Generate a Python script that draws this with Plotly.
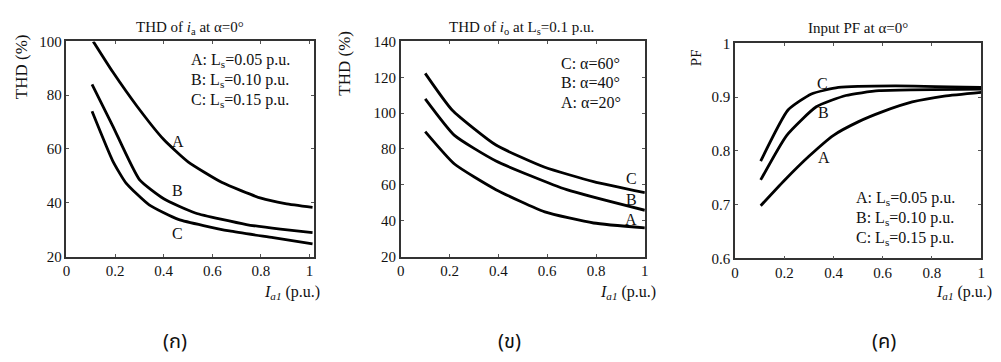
import plotly.graph_objects as go

# ---------------- data ----------------
# Panel 1: THD of i_a at alpha=0
p1_A_x = [0.11, 0.19, 0.29, 0.40, 0.50, 0.64, 0.80, 0.90, 1.012]
p1_A_y = [100, 88.7, 75.9, 63.5, 55.2, 47.5, 41.7, 39.7, 38.3]
p1_B_x = [0.105, 0.19, 0.30, 0.40, 0.53, 0.74, 0.88, 1.012]
p1_B_y = [84, 68.6, 48.6, 41.5, 36.2, 31.9, 30.2, 28.9]
p1_C_x = [0.105, 0.19, 0.245, 0.34, 0.46, 0.67, 0.85, 1.012]
p1_C_y = [74, 55.6, 47.3, 39.2, 33.8, 29.5, 27.0, 24.7]

# Panel 2: THD of i_o at Ls=0.1
p2_C_x = [0.10, 0.21, 0.39, 0.59, 0.79, 1.0]
p2_C_y = [122.2, 101.8, 82.2, 69.8, 61.8, 55.6]
p2_B_x = [0.10, 0.22, 0.39, 0.68, 1.0]
p2_B_y = [108, 87.6, 73.3, 57.3, 45.8]
p2_A_x = [0.10, 0.22, 0.39, 0.59, 0.79, 1.0]
p2_A_y = [89.7, 71.6, 57.3, 44.9, 38.7, 36]

# Panel 3: Input PF at alpha=0
p3_C_x = [0.104, 0.215, 0.31, 0.42, 0.65, 1.0]
p3_C_y = [0.781, 0.876, 0.906, 0.918, 0.921, 0.918]
p3_B_x = [0.104, 0.21, 0.33, 0.45, 0.585, 1.0]
p3_B_y = [0.746, 0.829, 0.882, 0.903, 0.912, 0.915]
p3_A_x = [0.104, 0.2, 0.3, 0.4, 0.5, 0.6, 0.72, 0.85, 1.0]
p3_A_y = [0.698, 0.745, 0.79, 0.829, 0.854, 0.873, 0.891, 0.902, 0.909]

x_ticks = [0, 0.2, 0.4, 0.6, 0.8, 1]
x_tick_text = ["0", "0.2", "0.4", "0.6", "0.8", "1"]
p1_y_ticks = [20, 40, 60, 80, 100]
p2_y_ticks = [20, 40, 60, 80, 100, 120, 140]
p3_y_ticks = [0.6, 0.7, 0.8, 0.9, 1.0]
p3_y_text = ["0.6", "0.7", "0.8", "0.9", "1"]

legend1 = ["A: L<sub>s</sub>=0.05 p.u.", "B: L<sub>s</sub>=0.10 p.u.", "C: L<sub>s</sub>=0.15 p.u."]
legend2 = ["C: α=60°", "B: α=40°", "A: α=20°"]
titles = ["THD of <i>i</i><sub>a</sub> at α=0°",
          "THD of <i>i</i><sub>o</sub> at L<sub>s</sub>=0.1 p.u.",
          "Input PF at α=0°"]
sub_labels = ["(ก)", "(ข)", "(ค)"]

# ---------------- layout helpers ----------------
W, H = 1001, 362
def px(x):
    return x / W
def py(y):
    return 1 - y / H

SERIF = "Liberation Serif, Times New Roman, serif"
FC = "#111111"

fig = go.Figure()
line = dict(color="black", width=2.8, shape="spline", smoothing=0.5)

for xs, ys, xa, ya in [(p1_A_x, p1_A_y, "x", "y"), (p1_B_x, p1_B_y, "x", "y"), (p1_C_x, p1_C_y, "x", "y"),
                       (p2_C_x, p2_C_y, "x2", "y2"), (p2_B_x, p2_B_y, "x2", "y2"), (p2_A_x, p2_A_y, "x2", "y2"),
                       (p3_C_x, p3_C_y, "x3", "y3"), (p3_B_x, p3_B_y, "x3", "y3"), (p3_A_x, p3_A_y, "x3", "y3")]:
    fig.add_trace(go.Scatter(x=xs, y=ys, mode="lines", line=line, xaxis=xa, yaxis=ya))

axis_common = dict(showgrid=False, zeroline=False, showline=True, mirror="ticks",
                   linecolor="#333333", linewidth=1.5, ticks="inside", ticklen=3,
                   tickcolor="#555555", tickfont=dict(family=SERIF, size=15, color=FC))

fig.update_layout(
    width=W, height=H, margin=dict(l=0, r=0, t=0, b=0),
    paper_bgcolor="white", plot_bgcolor="white", showlegend=False,
    xaxis=dict(domain=[px(63), px(312)], range=[0, 1.016], tickvals=x_ticks, ticktext=x_tick_text,
               anchor="y", **axis_common),
    yaxis=dict(domain=[py(260), py(35)], range=[20, 100], tickvals=p1_y_ticks,
               anchor="x", **axis_common),
    xaxis2=dict(domain=[px(400), px(646)], range=[0, 1], tickvals=x_ticks, ticktext=x_tick_text,
                anchor="y2", **axis_common),
    yaxis2=dict(domain=[py(260), py(35)], range=[20, 140], tickvals=p2_y_ticks,
                anchor="x2", **axis_common),
    xaxis3=dict(domain=[px(737), px(985)], range=[0, 1], tickvals=x_ticks, ticktext=x_tick_text,
                anchor="y3", **axis_common),
    yaxis3=dict(domain=[py(262), py(37)], range=[0.6, 1.0], tickvals=p3_y_ticks, ticktext=p3_y_text,
                anchor="x3", **axis_common),
)

ann = []
def text(x, y, s, size=15, xanchor="center", yanchor="middle", xref="paper", yref="paper",
         family=SERIF, angle=0):
    ann.append(dict(x=x, y=y, text=s, xref=xref, yref=yref, showarrow=False,
                    xanchor=xanchor, yanchor=yanchor, textangle=angle,
                    font=dict(family=family, size=size, color=FC)))

# titles
text(px(188), py(21), titles[0], size=15)
text(px(522), py(21), titles[1], size=15)
text(px(861), py(21), titles[2], size=15)

# y axis titles
text(px(17), py(61), "THD (%)", size=17, angle=-90)
text(px(343), py(58), "THD (%)", size=17, angle=-90)
text(px(697), py(52), "PF", size=15, angle=-90)

# x axis titles
for xr in [321, 659, 998]:
    text(px(xr), py(298), "<i>I</i><sub><i>a1</i></sub> (p.u.)", size=16, xanchor="right")

# legends
for s, yy in zip(legend1, [55, 76, 97]):
    text(px(186), py(yy), s, size=16, xanchor="left")
for s, yy in zip(legend2, [58, 78, 99]):
    text(px(559), py(yy), s, size=16, xanchor="left")
for s, yy in zip(legend1, [199, 220, 241]):
    text(px(857), py(yy), s, size=16, xanchor="left")

# curve labels
text(0.457, 62.7, "A", size=16, xref="x", yref="y")
text(0.457, 44.5, "B", size=16, xref="x", yref="y")
text(0.457, 28.5, "C", size=16, xref="x", yref="y")
text(0.945, 63.5, "C", size=16, xref="x2", yref="y2")
text(0.945, 52, "B", size=16, xref="x2", yref="y2")
text(0.945, 40.5, "A", size=16, xref="x2", yref="y2")
text(0.355, 0.926, "C", size=16, xref="x3", yref="y3")
text(0.36, 0.871, "B", size=16, xref="x3", yref="y3")
text(0.36, 0.788, "A", size=16, xref="x3", yref="y3")

# sub-figure labels
THAI = "Noto Sans Thai, Noto Sans, DejaVu Sans, sans-serif"
text(px(172), py(349), sub_labels[0], size=20, family=THAI)
text(px(510), py(349), sub_labels[1], size=20, family=THAI)
text(px(887), py(349), sub_labels[2], size=20, family=THAI)

fig.update_layout(annotations=ann)
fig.write_html("out.html")
